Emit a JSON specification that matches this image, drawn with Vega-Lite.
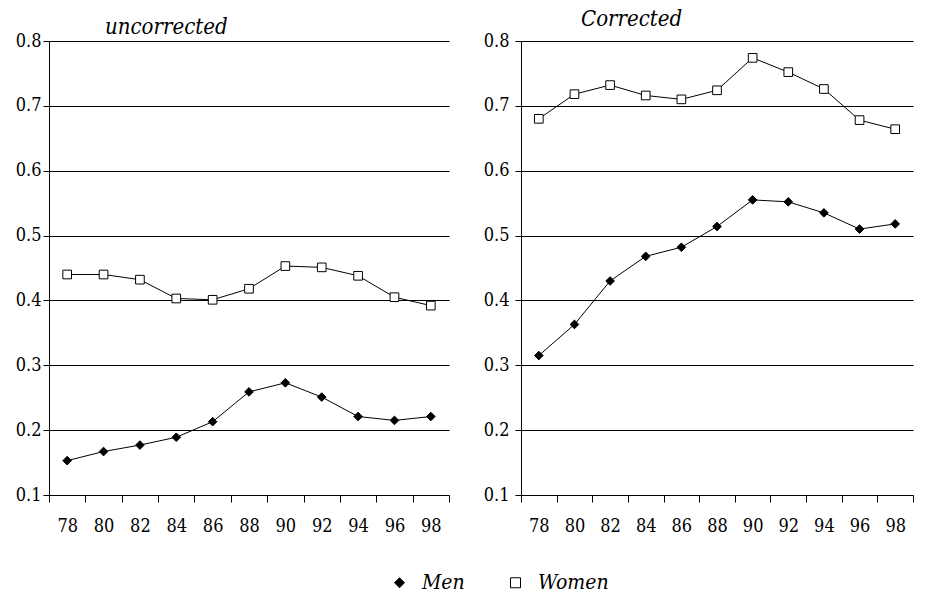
{
  "$schema": "https://vega.github.io/schema/vega-lite/v6.json",
  "padding": {"left": 15, "top": 8, "right": 0, "bottom": 0},
  "datasets": {
    "rows": [
      {"panel": "uncorrected", "series": "Men", "year": "78", "value": 0.153},
      {"panel": "uncorrected", "series": "Men", "year": "80", "value": 0.167},
      {"panel": "uncorrected", "series": "Men", "year": "82", "value": 0.177},
      {"panel": "uncorrected", "series": "Men", "year": "84", "value": 0.189},
      {"panel": "uncorrected", "series": "Men", "year": "86", "value": 0.213},
      {"panel": "uncorrected", "series": "Men", "year": "88", "value": 0.259},
      {"panel": "uncorrected", "series": "Men", "year": "90", "value": 0.273},
      {"panel": "uncorrected", "series": "Men", "year": "92", "value": 0.251},
      {"panel": "uncorrected", "series": "Men", "year": "94", "value": 0.221},
      {"panel": "uncorrected", "series": "Men", "year": "96", "value": 0.215},
      {"panel": "uncorrected", "series": "Men", "year": "98", "value": 0.221},
      {"panel": "uncorrected", "series": "Women", "year": "78", "value": 0.44},
      {"panel": "uncorrected", "series": "Women", "year": "80", "value": 0.44},
      {"panel": "uncorrected", "series": "Women", "year": "82", "value": 0.432},
      {"panel": "uncorrected", "series": "Women", "year": "84", "value": 0.403},
      {"panel": "uncorrected", "series": "Women", "year": "86", "value": 0.401},
      {"panel": "uncorrected", "series": "Women", "year": "88", "value": 0.418},
      {"panel": "uncorrected", "series": "Women", "year": "90", "value": 0.453},
      {"panel": "uncorrected", "series": "Women", "year": "92", "value": 0.451},
      {"panel": "uncorrected", "series": "Women", "year": "94", "value": 0.438},
      {"panel": "uncorrected", "series": "Women", "year": "96", "value": 0.405},
      {"panel": "uncorrected", "series": "Women", "year": "98", "value": 0.392},
      {"panel": "Corrected", "series": "Men", "year": "78", "value": 0.315},
      {"panel": "Corrected", "series": "Men", "year": "80", "value": 0.363},
      {"panel": "Corrected", "series": "Men", "year": "82", "value": 0.43},
      {"panel": "Corrected", "series": "Men", "year": "84", "value": 0.468},
      {"panel": "Corrected", "series": "Men", "year": "86", "value": 0.482},
      {"panel": "Corrected", "series": "Men", "year": "88", "value": 0.514},
      {"panel": "Corrected", "series": "Men", "year": "90", "value": 0.555},
      {"panel": "Corrected", "series": "Men", "year": "92", "value": 0.552},
      {"panel": "Corrected", "series": "Men", "year": "94", "value": 0.535},
      {"panel": "Corrected", "series": "Men", "year": "96", "value": 0.51},
      {"panel": "Corrected", "series": "Men", "year": "98", "value": 0.518},
      {"panel": "Corrected", "series": "Women", "year": "78", "value": 0.68},
      {"panel": "Corrected", "series": "Women", "year": "80", "value": 0.718},
      {"panel": "Corrected", "series": "Women", "year": "82", "value": 0.732},
      {"panel": "Corrected", "series": "Women", "year": "84", "value": 0.716},
      {"panel": "Corrected", "series": "Women", "year": "86", "value": 0.71},
      {"panel": "Corrected", "series": "Women", "year": "88", "value": 0.724},
      {"panel": "Corrected", "series": "Women", "year": "90", "value": 0.774},
      {"panel": "Corrected", "series": "Women", "year": "92", "value": 0.752},
      {"panel": "Corrected", "series": "Women", "year": "94", "value": 0.726},
      {"panel": "Corrected", "series": "Women", "year": "96", "value": 0.678},
      {"panel": "Corrected", "series": "Women", "year": "98", "value": 0.664}
    ]
  },
  "spacing": 33,
  "hconcat": [
    {
      "width": 400,
      "height": 454,
      "title": {"text": "uncorrected", "dx": 56, "offset": -7},
      "data": {"name": "rows"},
      "transform": [{"filter": "datum.panel == 'uncorrected'"}],
      "encoding": {
        "x": {"field": "year", "type": "ordinal", "scale": {"type": "band", "paddingInner": 0, "paddingOuter": 0}, "axis": {"title": null, "tickBand": "extent", "tickSize": 7, "labelPadding": 15, "labelAngle": 0}},
        "y": {"field": "value", "type": "quantitative", "scale": {"domain": [0.1, 0.8], "nice": false, "zero": false}, "axis": {"title": null, "values": [0.1, 0.2, 0.3, 0.4, 0.5, 0.6, 0.7, 0.8], "format": ".1f", "grid": true, "gridColor": "#000", "gridOpacity": 1, "tickSize": 6, "labelPadding": 2}}
      },
      "layer": [
        {"mark": {"type": "line", "color": "#000", "strokeWidth": 1}, "encoding": {"detail": {"field": "series"}}},
        {"mark": {"type": "point", "strokeWidth": 1, "opacity": 1, "size": 75},
         "encoding": {
           "shape": {"field": "series", "type": "nominal", "scale": {"domain": ["Men", "Women"], "range": ["diamond", "square"]},
             "legend": {"orient": "none", "legendX": 340, "legendY": 531, "direction": "horizontal", "title": null}},
           "fill": {"field": "series", "type": "nominal", "scale": {"domain": ["Men", "Women"], "range": ["#000", "#fff"]},
             "legend": {"orient": "none", "legendX": 340, "legendY": 531, "direction": "horizontal", "title": null}},
           "stroke": {"field": "series", "type": "nominal", "scale": {"domain": ["Men", "Women"], "range": ["#000", "#000"]},
             "legend": {"orient": "none", "legendX": 340, "legendY": 531, "direction": "horizontal", "title": null}}
         }}
      ]
    },
    {
      "width": 392,
      "height": 454,
      "title": {"text": "Corrected", "dx": 60, "offset": 1},
      "data": {"name": "rows"},
      "transform": [{"filter": "datum.panel == 'Corrected'"}],
      "encoding": {
        "x": {"field": "year", "type": "ordinal", "scale": {"type": "band", "paddingInner": 0, "paddingOuter": 0}, "axis": {"title": null, "tickBand": "extent", "tickSize": 7, "labelPadding": 15, "labelAngle": 0}},
        "y": {"field": "value", "type": "quantitative", "scale": {"domain": [0.1, 0.8], "nice": false, "zero": false}, "axis": {"title": null, "values": [0.1, 0.2, 0.3, 0.4, 0.5, 0.6, 0.7, 0.8], "format": ".1f", "grid": true, "gridColor": "#000", "gridOpacity": 1, "tickSize": 6, "labelPadding": 6}}
      },
      "layer": [
        {"mark": {"type": "line", "color": "#000", "strokeWidth": 1}, "encoding": {"detail": {"field": "series"}}},
        {"mark": {"type": "point", "strokeWidth": 1, "opacity": 1, "size": 75},
         "encoding": {
           "shape": {"field": "series", "type": "nominal", "scale": {"domain": ["Men", "Women"], "range": ["diamond", "square"]}},
           "fill": {"field": "series", "type": "nominal", "scale": {"domain": ["Men", "Women"], "range": ["#000", "#fff"]}},
           "stroke": {"field": "series", "type": "nominal", "scale": {"domain": ["Men", "Women"], "range": ["#000", "#000"]}}
         }}
      ]
    }
  ],
  "resolve": {
    "scale": {"shape": "shared", "fill": "shared", "stroke": "shared", "x": "independent", "y": "independent"},
    "legend": {"shape": "shared", "fill": "shared", "stroke": "shared"}
  },
  "config": {
    "font": "DejaVu Serif Condensed",
    "view": {"stroke": null},
    "axis": {
      "labelFont": "DejaVu Serif Condensed",
      "labelFontSize": 18,
      "labelColor": "#000",
      "domainColor": "#000",
      "domainWidth": 1,
      "tickColor": "#000",
      "tickWidth": 1
    },
    "title": {"font": "DejaVu Serif Condensed", "fontStyle": "italic", "fontWeight": "normal", "fontSize": 22, "anchor": "start", "frame": "group", "color": "#000"},
    "legend": {
      "labelFont": "DejaVu Serif Condensed",
      "labelFontStyle": "italic",
      "labelFontSize": 21,
      "labelColor": "#000",
      "labelOffset": 12,
      "columnPadding": 40,
      "symbolSize": 100,
      "symbolStrokeWidth": 1
    }
  }
}
